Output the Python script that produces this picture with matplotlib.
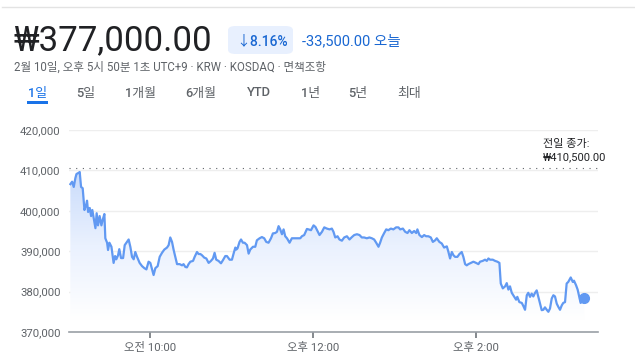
import matplotlib
matplotlib.use('Agg')
import matplotlib.pyplot as plt
import numpy as np
from matplotlib.patches import FancyBboxPatch, Rectangle
from matplotlib.colors import LinearSegmentedColormap

plt.rcParams['font.family'] = ['Roboto', 'Noto Sans CJK KR', 'DejaVu Sans']

# 장 시작(09:00) 이후 경과 분
minutes = [1.0, 2.3, 3.5, 4.7, 5.5, 7.1, 7.9, 8.9, 10.1, 11.4, 12.6, 13.3, 14.1, 15.3, 16.3,
           17.2, 18.2, 19.5, 20.4, 21.4, 22.6, 23.9, 24.8, 26.1, 26.8, 28.1, 28.8, 29.8, 31.3,
           32.9, 34.0, 34.9, 36.2, 37.1, 38.4, 39.9, 41.1, 42.8, 44.0, 45.3, 46.5, 47.7, 48.9,
           50.2, 52.1, 53.9, 55.6, 57.1, 58.7, 60.0, 61.3, 62.4, 63.7, 65.4, 66.9, 68.6, 70.3,
           72.3, 73.5, 74.7, 76.0, 77.2, 78.4, 79.7, 81.6, 83.4, 84.5, 85.8, 87.0, 88.2, 89.5,
           91.5, 92.7, 94.4, 95.6, 96.9, 98.1, 99.8, 101.3, 103.0, 104.7, 106.2, 107.4, 108.6,
           110.3, 112.1, 113.6, 115.3, 116.5, 118.5, 120.2, 121.4, 122.7, 123.4, 124.3, 125.8,
           126.9, 128.3, 129.5, 131.3, 132.5, 133.7, 135.7, 137.4, 138.6, 140.6, 142.3, 144.0,
           145.5, 147.2, 149.0, 150.4, 152.1, 153.4, 154.6, 155.8, 157.1, 158.3, 159.5, 160.8,
           162.7, 164.4, 165.6, 168.1, 170.6, 171.8, 173.5, 175.5, 176.7, 178.5, 180.4, 181.8,
           183.3, 184.8, 186.6, 188.3, 190.2, 192.2, 193.9, 195.1, 196.4, 198.1, 199.5, 201.3,
           203.0, 205.0, 206.9, 208.7, 210.4, 212.4, 214.3, 216.0, 217.7, 219.7, 221.6, 223.4,
           225.1, 226.6, 228.3, 229.5, 230.8, 232.5, 234.0, 235.6, 237.4, 239.3, 241.3, 243.0,
           244.3, 246.3, 248.0, 249.7, 251.1, 252.9, 254.6, 256.1, 257.0, 258.5, 260.3, 262.0,
           263.4, 265.1, 266.9, 268.4, 270.1, 271.3, 273.2, 275.0, 276.7, 278.7, 279.9, 281.1,
           282.4, 283.6, 284.8, 286.5, 288.0, 289.7, 290.9, 292.2, 293.4, 294.6, 296.4, 298.3,
           300.3, 302.0, 303.2, 305.2, 306.9, 308.2, 309.4, 310.6, 312.6, 314.3, 316.0, 317.5,
           318.5, 320.0, 321.7, 322.9, 324.1, 325.3, 326.6, 328.3, 329.8, 330.7, 332.2, 334.0,
           335.2, 336.4, 337.7, 338.8, 340.1, 341.3, 342.5, 343.8, 345.0, 346.2, 347.5, 348.7,
           349.9, 351.1, 352.4, 353.6, 354.8, 356.1, 357.3, 358.5, 359.8, 361.0, 362.2, 363.5,
           364.6, 365.9, 367.1, 368.3, 370.1, 371.6, 372.5, 374.0, 375.2, 376.4, 377.4, 378.9,
           379.9]
prices = [406600, 407200, 405900, 408100, 409100, 409400, 409600, 405900, 405600, 400200,
          401400, 402500, 399700, 400700, 398700, 400200, 398200, 395700, 399400, 396400,
          398700, 396400, 397700, 399200, 393200, 392100, 390300, 392100, 391100, 387100,
          388800, 388000, 389000, 390500, 388300, 388300, 391500, 392300, 392900, 391000,
          388600, 388000, 389800, 388600, 387100, 386300, 385800, 385500, 387400, 387100,
          385500, 384100, 385800, 386300, 388600, 389600, 390400, 390900, 391500, 393400,
          392300, 390300, 388600, 386800, 386800, 386500, 386800, 386100, 386000, 386800,
          387400, 387600, 388600, 389800, 389300, 389300, 389000, 388400, 388200, 387100,
          387600, 388200, 389600, 387900, 387600, 387000, 387800, 388800, 388800, 387900,
          387900, 389400, 390900, 390400, 390700, 392300, 392900, 392100, 392100, 391500,
          389400, 390400, 391100, 391100, 392700, 393200, 393500, 393200, 392300, 392100,
          393200, 394400, 394500, 394800, 396200, 395400, 394200, 395400, 393700, 393200,
          392100, 393200, 393200, 393200, 393200, 393700, 394000, 395500, 395400, 395200,
          396400, 396000, 395000, 394000, 394800, 395900, 395600, 395400, 395600, 394800,
          393400, 393700, 392900, 392600, 393400, 393700, 392900, 393500, 394000, 394200,
          394000, 393400, 393400, 393200, 393400, 393200, 392900, 392100, 391100, 392100,
          393400, 394500, 395400, 395200, 395600, 395400, 395900, 395900, 395400, 395600,
          394800, 394500, 395200, 394500, 395000, 394500, 395400, 394000, 393500, 394000,
          393700, 393700, 393400, 392300, 392700, 393200, 392300, 391900, 390900, 391200,
          389800, 388200, 389800, 389000, 388600, 388600, 389300, 389800, 388600, 386800,
          386500, 386800, 387100, 387400, 387100, 386800, 387400, 387600, 387900, 387600,
          388200, 387900, 387900, 387600, 387400, 387100, 382000, 380800, 381300, 382100,
          380500, 381300, 379700, 378800, 378000, 378700, 377400, 377200, 376400, 375500,
          379100, 379700, 378700, 379500, 378800, 379700, 380300, 378700, 377000, 375400,
          375500, 376100, 375500, 375000, 375800, 378300, 379100, 378800, 377000, 376200,
          375500, 376600, 377200, 377400, 382000, 382400, 383500, 382400, 382700, 381600,
          380500, 378700, 377200, 377900, 378500]

prev_close = 410500
y_ticks = [370000, 380000, 390000, 400000, 410000, 420000]
x_ticks = [60, 180, 300]
x_labels = ['오전 10:00', '오후 12:00', '오후 2:00']
tabs = ['1일', '5일', '1개월', '6개월', 'YTD', '1년', '5년', '최대']

W, H = 635, 362
fig = plt.figure(figsize=(W / 100, H / 100), dpi=100)

def fx(x):
    return x / W

def fy(y):
    return 1 - y / H

# 헤더
fig.add_artist(plt.Line2D([fx(2), fx(635)], [fy(7), fy(7)], color='#e3e3e3', lw=1))
fig.text(fx(14), fy(41), '₩377,000.00', fontsize=25, color='#202124', va='center', ha='left')
fig.add_artist(FancyBboxPatch((fx(228), fy(54)), fx(65), 28 / H,
                              boxstyle='round,pad=0,rounding_size=0.012',
                              transform=fig.transFigure, fc='#e8f0fe', ec='none'))
fig.text(fx(236), fy(41), '↓8.16%', fontsize=10, color='#1967d2', va='center', ha='left',
         fontweight='medium')
fig.text(fx(302), fy(41), '-33,500.00 오늘', fontsize=10.5, color='#1967d2', va='center', ha='left')
fig.text(fx(14), fy(67), '2월 10일, 오후 5시 50분 1초 UTC+9 · KRW · KOSDAQ · 면책조항',
         fontsize=8.3, color='#5f6368', va='center', ha='left')

tab_x = [28, 76, 125, 185, 247, 301, 348, 397]
for i, (t, x) in enumerate(zip(tabs, tab_x)):
    fig.text(fx(x), fy(93), t, fontsize=9.3, color='#1a73e8' if i == 0 else '#5f6368',
             va='center', ha='left', fontweight='medium')
fig.add_artist(Rectangle((fx(27), fy(104)), fx(21), 3 / H, transform=fig.transFigure,
                         fc='#1a73e8', ec='none'))

# 차트
ax = fig.add_axes([fx(69), fy(332), fx(597.7 - 69), (332 - 130) / H])
ax.set_xlim(0, 390)
ax.set_ylim(370000, 420000)
for s in ['top', 'right', 'left']:
    ax.spines[s].set_visible(False)
ax.spines['bottom'].set_color('#9aa0a6')
ax.spines['bottom'].set_linewidth(1.2)
ax.spines['bottom'].set_zorder(5)

ax.set_yticks(y_ticks)
ax.set_yticklabels([f'{v:,}' for v in y_ticks])
ax.tick_params(axis='y', length=0, pad=6, labelsize=8.2, labelcolor='#5f6368')
ax.set_xticks(x_ticks)
ax.set_xticklabels(x_labels)
ax.tick_params(axis='x', length=4, width=1.2, color='#70757a', pad=3, labelsize=8.2,
               labelcolor='#5f6368')
for v in y_ticks[1:]:
    ax.axhline(v, color='#eeeeee', lw=1, zorder=0)

# 그라데이션 채우기
cmap = LinearSegmentedColormap.from_list('g', ['#ffffff', '#eaf1fe', '#c8dbfb'])
grad = np.linspace(0, 1, 256).reshape(-1, 1)
im = ax.imshow(grad, extent=[0, 390, 373000, 410000], origin='lower', aspect='auto',
               cmap=cmap, zorder=1)
poly = ax.fill_between(minutes, prices, 370000, color='none')
im.set_clip_path(poly.get_paths()[0], transform=ax.transData)
ax.fill_between([0, 390], 370000, 373000, color='white', zorder=1.1)

ax.plot(minutes, prices, color='#6199f2', lw=1.6, zorder=3, solid_joinstyle='round')
ax.plot(minutes[-1], prices[-1], 'o', color='#6199f2', ms=7, zorder=4)

ax.axhline(prev_close, color='#5f6368', lw=0.8, dashes=(1, 5), zorder=2)
fig.text(fx(543), fy(144), '전일 종가:', fontsize=8, color='#202124', va='center', ha='left')
fig.text(fx(543), fy(157), f'₩{prev_close:,}.00', fontsize=8, color='#202124',
         va='center', ha='left')

fig.savefig('out.png', dpi=100)
